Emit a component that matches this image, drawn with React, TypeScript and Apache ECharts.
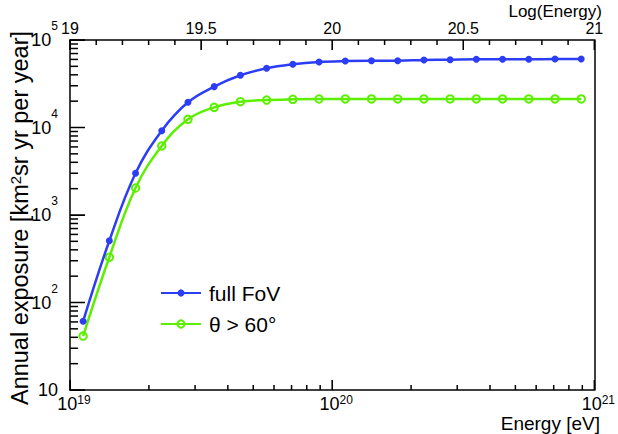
import React, { useEffect, useRef } from "react";
import * as echarts from "echarts";

// ---- data ----
const logEnergy = [
  19.05, 19.15, 19.25, 19.35, 19.45, 19.55, 19.65, 19.75, 19.85, 19.95,
  20.05, 20.15, 20.25, 20.35, 20.45, 20.55, 20.65, 20.75, 20.85, 20.95,
];
const fullFoV = [
  61, 508, 3000, 9200, 19400, 29300, 39500, 47500, 52800, 56100,
  57500, 58000, 58000, 59100, 59600, 60200, 60200, 60200, 60700, 60700,
];
const thetaAbove60 = [
  41.4, 329, 2035, 6150, 12400, 17000, 19700, 20600, 21000, 21170,
  21200, 21200, 21200, 21200, 21200, 21200, 21200, 21200, 21200, 21200,
];
const seriesNames = ["full FoV", "θ > 60°"];

// tick labels / tick positions
const yTickValues = [10, 100, 1000, 10000, 100000];
const yTickSup = ["", "2", "3", "4", "5"];
const xTickValues = [1e19, 1e20, 1e21];
const xTickSup = ["19", "20", "21"];
const topTickValues = [19, 19.5, 20, 20.5, 21];
const topTickLabels = ["19", "19.5", "20", "20.5", "21"];
const topMinorStep = 0.1;
const minorMultipliers = [2, 3, 4, 5, 6, 7, 8, 9];

const FONT = "'Liberation Sans', Arial, Helvetica, sans-serif";
const BLUE = "#2b3df5";
const GREEN = "#5cf000";

function findIdx(values: number[], v: number) {
  for (let i = 0; i < values.length; i++) {
    if (Math.abs(Math.log10(values[i]) - Math.log10(v)) < 1e-6) return i;
  }
  return -1;
}

// tick kinds: 0 left major, 1 left minor, 2 bottom major, 3 bottom minor, 4 top major, 5 top minor
const TICK_LEN = [15, 8, 10, 5, 10, 5];
const TICK_W = 1.5;

function buildTicks() {
  const xMin = xTickValues[0];
  const yMin = yTickValues[0];
  const yMax = yTickValues[yTickValues.length - 1];
  const ticks: number[][] = [];
  yTickValues.forEach((v, i) => {
    ticks.push([xMin, v, 0]);
    if (i < yTickValues.length - 1) minorMultipliers.forEach((m) => ticks.push([xMin, v * m, 1]));
  });
  xTickValues.forEach((v, i) => {
    ticks.push([v, yMin, 2]);
    if (i < xTickValues.length - 1) minorMultipliers.forEach((m) => ticks.push([v * m, yMin, 3]));
  });
  const lo = topTickValues[0];
  const hi = topTickValues[topTickValues.length - 1];
  const n = Math.round((hi - lo) / topMinorStep);
  for (let k = 0; k <= n; k++) {
    const lv = lo + k * topMinorStep;
    const major = topTickValues.some((t) => Math.abs(t - lv) < 1e-6);
    ticks.push([Math.pow(10, lv), yMax, major ? 4 : 5]);
  }
  return ticks;
}

export default function App() {
  const ref = useRef<HTMLDivElement>(null);
  useEffect(() => {
    if (!ref.current) return;
    const chart = echarts.init(ref.current, null, { renderer: "svg" });
    const axisLine = () => ({ show: true, onZero: false, lineStyle: { color: "#000", width: 1.5 } });
    const ticks = buildTicks();

    const titles: any[] = [
      {
        id: "ytitle", type: "text", x: 20, y: 31, rotation: Math.PI / 2,
        style: {
          text: "{a|Annual exposure [km}{s|2}{a|sr yr per year]}",
          rich: {
            a: { fontSize: 23.5, fontFamily: FONT, fill: "#000" },
            s: { fontSize: 15, fontFamily: FONT, fill: "#000", verticalAlign: "top" },
          },
          align: "right", verticalAlign: "middle", fill: "#000",
        },
      },
      {
        id: "xtitle", type: "text", x: 600, y: 423,
        style: { text: "Energy [eV]", fontSize: 19, fontFamily: FONT, fill: "#000", align: "right", verticalAlign: "middle" },
      },
      {
        id: "toptitle", type: "text", x: 602, y: 11,
        style: { text: "Log(Energy)", fontSize: 17, fontFamily: FONT, fill: "#000", align: "right", verticalAlign: "middle" },
      },
    ];

    chart.setOption({
      animation: false,
      backgroundColor: "#fff",
      textStyle: { fontFamily: FONT },
      grid: { left: 70, right: 20, top: 40, bottom: 44, show: false, containLabel: false },
      legend: [
        {
          data: [seriesNames[0]], left: 160, top: 281, padding: 0,
          itemWidth: 40, itemHeight: 9, itemGap: 8,
          textStyle: { fontSize: 21, fontFamily: FONT, color: "#000", lineHeight: 24, padding: [0, 0, 0, 3] },
        },
        {
          data: [seriesNames[1]], left: 160, top: 312, padding: 0,
          itemWidth: 40, itemHeight: 9, itemGap: 8,
          textStyle: { fontSize: 21, fontFamily: FONT, color: "#000", lineHeight: 24, padding: [0, 0, 0, 3] },
        },
      ],
      xAxis: [
        {
          type: "log", logBase: 10, min: 1e19, max: 1e21, position: "bottom",
          axisLine: axisLine(), splitLine: { show: false }, minorTick: { show: false },
          axisTick: { show: true, inside: true, length: 10 },
          axisLabel: {
            show: true, margin: 4, color: "#000", padding: [0, 0, 0, 8],
            formatter: (v: number) => {
              const i = findIdx(xTickValues, v);
              if (i < 0) return "";
              return "{b|10}{s|" + xTickSup[i] + "}";
            },
            rich: {
              b: { fontSize: 18, fontFamily: FONT, color: "#000", lineHeight: 20 },
              s: { fontSize: 12, fontFamily: FONT, color: "#000", verticalAlign: "top" },
            },
          },
        },
        {
          type: "value", min: 19, max: 21, interval: 0.5, position: "top",
          axisLine: axisLine(), splitLine: { show: false },
          axisTick: { show: true, inside: true, length: 10 },
          minorTick: { show: false }, minorSplitLine: { show: false },
          axisLabel: {
            show: true, margin: 4, fontSize: 16, fontFamily: FONT, color: "#000",
            formatter: (v: number) => {
              const i = topTickValues.findIndex((t) => Math.abs(t - v) < 1e-6);
              return i < 0 ? "" : topTickLabels[i];
            },
          },
        },
      ],
      yAxis: [
        {
          type: "log", logBase: 10, min: 10, max: 1e5, position: "left",
          axisLine: axisLine(), splitLine: { show: false }, minorTick: { show: false },
          axisTick: { show: true, inside: true, length: 15 },
          axisLabel: {
            show: true, margin: 12, color: "#000",
            formatter: (v: number) => {
              const i = findIdx(yTickValues, v);
              if (i < 0) return "";
              return yTickSup[i] ? "{b|10}{s|" + yTickSup[i] + "}" : "{b|10}";
            },
            rich: {
              b: { fontSize: 18, fontFamily: FONT, color: "#000", lineHeight: 40 },
              s: { fontSize: 12, fontFamily: FONT, color: "#000", verticalAlign: "top" },
            },
          },
        },
        {
          type: "value", min: 1, max: 5, position: "right",
          axisLine: axisLine(), splitLine: { show: false },
          axisLabel: { show: false }, axisTick: { show: false },
        },
      ],
      series: [
        {
          type: "line", name: seriesNames[0], xAxisIndex: 0, yAxisIndex: 0,
          data: logEnergy.map((l, i) => [Math.pow(10, l), fullFoV[i]]),
          smooth: 0.4, symbol: "circle", symbolSize: 7,
          lineStyle: { color: BLUE, width: 2.5 },
          itemStyle: { color: BLUE },
          z: 4,
        },
        {
          type: "line", name: seriesNames[1], xAxisIndex: 0, yAxisIndex: 0,
          data: logEnergy.map((l, i) => [Math.pow(10, l), thetaAbove60[i]]),
          smooth: 0.4, symbol: "circle", symbolSize: 7.5,
          lineStyle: { color: GREEN, width: 2.5 },
          itemStyle: { color: "rgba(0,0,0,0)", borderColor: GREEN, borderWidth: 2 },
          z: 3,
        },
      ],
      graphic: titles,
    });

    // axis ticks as thin rectangles, placed through the series' log scales
    const tickEls: any[] = [];
    ticks.forEach((t, i) => {
      let p: any = null;
      try {
        p = chart.convertToPixel({ seriesIndex: 0 }, [t[0], t[1]]);
      } catch (e) {
        p = null;
      }
      if (!p || !isFinite(p[0]) || !isFinite(p[1])) return;
      const kind = t[2];
      const len = TICK_LEN[kind];
      let shape;
      if (kind <= 1) shape = { x: p[0], y: p[1] - TICK_W / 2, width: len, height: TICK_W };
      else if (kind <= 3) shape = { x: p[0] - TICK_W / 2, y: p[1] - len, width: TICK_W, height: len };
      else shape = { x: p[0] - TICK_W / 2, y: p[1], width: TICK_W, height: len };
      tickEls.push({
        id: "tick" + i, type: "rect", silent: true, z: 10,
        shape, style: { fill: "#000" },
      });
    });
    chart.setOption({ graphic: titles.concat(tickEls) });

    return () => chart.dispose();
  }, []);
  return <div ref={ref} style={{ position: "absolute", left: 0, top: 0, width: 618, height: 434 }} />;
}
